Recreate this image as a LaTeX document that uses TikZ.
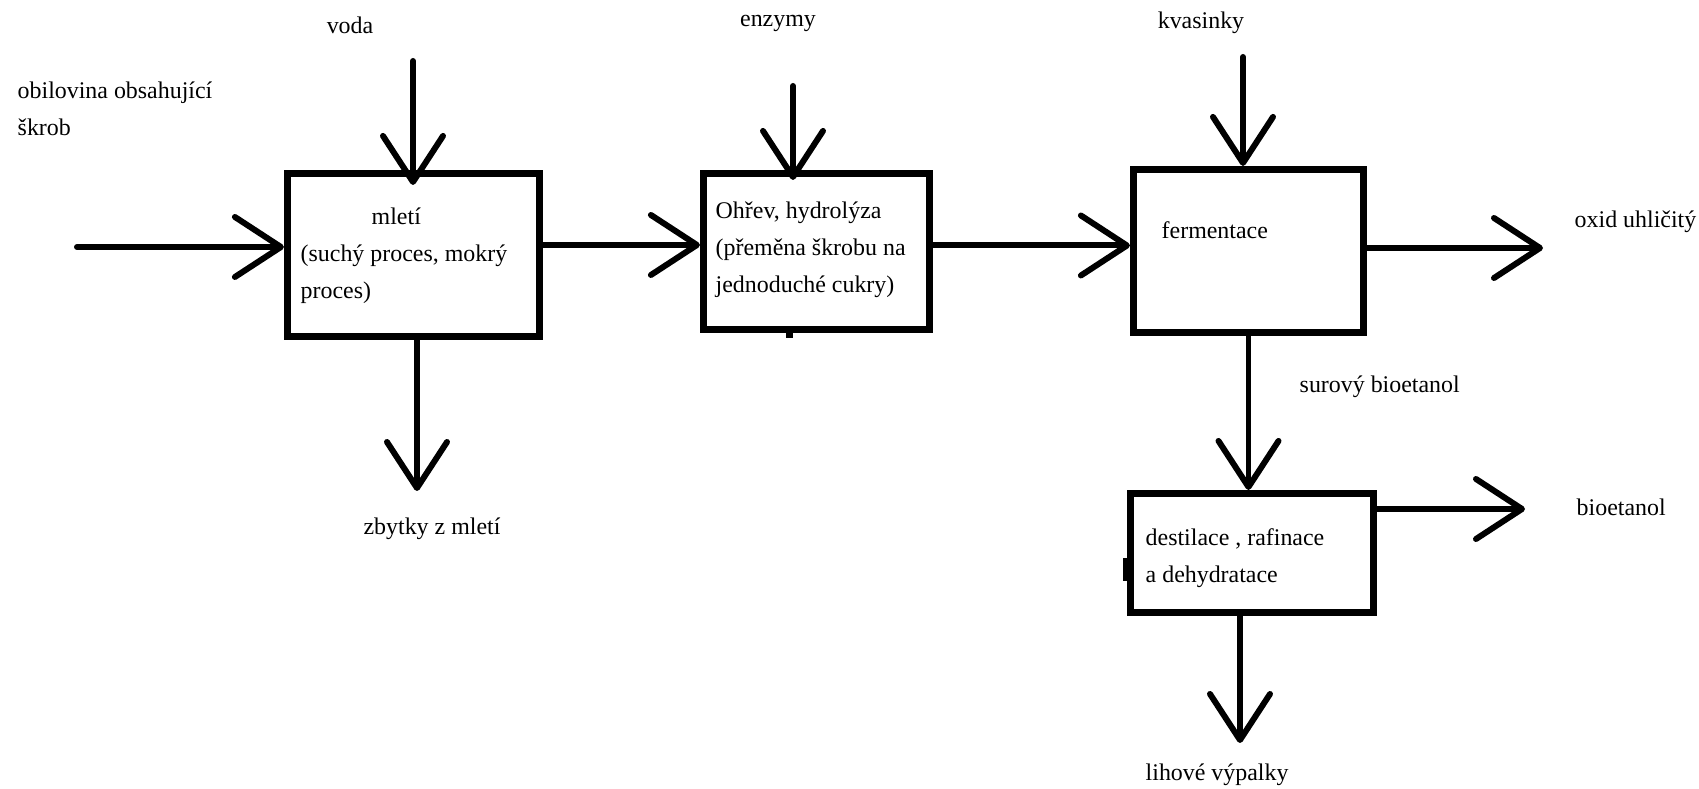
\documentclass[tikz,border=0pt]{standalone}
\usepackage{fontspec}
\setmainfont{Liberation Serif}
\usepackage{tikz}
\usetikzlibrary{
  arrows.meta,
  positioning
}

\begin{document}
\begin{tikzpicture}[
    x=0.01cm, y=-0.01cm,
    >={Straight Barb[round,length=4.6mm,width=6mm]},
    font=\fontsize{6.8}{10.5}\selectfont,
    blok/.style={draw, line width=2pt, inner sep=0pt},
    tok/.style={->, line width=1.7pt, line cap=round},
    popis/.style={inner sep=0pt, align=left}
    ]

    \fill[white] (0,0) rectangle (1699,789);

    % bloky
    \node[blok, minimum width=2.52cm, minimum height=1.63cm]
    (mleti) at (413.5,255) {};
    \node[blok, minimum width=2.26cm, minimum height=1.56cm]
    (hydrolyza) at (816.5,251.5) {};
    \node[blok, minimum width=2.30cm, minimum height=1.63cm]
    (fermentace) at (1248.5,251) {};
    \node[blok, minimum width=2.43cm, minimum height=1.19cm]
    (destilace) at (1252,553) {};

    % drobné zbytky čar
    \fill (786,333) rectangle (793,338);
    \fill (1123,558) rectangle (1128,581);

    % texty v blocích
    \node[popis, anchor=west] (t1) at (300,256)
    {\hspace*{0.71cm}mletí\\(suchý proces, mokrý\\proces)};
    \node[popis, anchor=west] (t2) at (715,250)
    {Ohřev, hydrolýza\\(přeměna škrobu na\\jednoduché cukry)};
    \node[popis, anchor=west] (t3) at (1161,230) {fermentace};
    \node[popis, anchor=west] (t4) at (1145,558)
    {destilace , rafinace\\a dehydratace};

    % popisky
    \node[popis, anchor=west] (obilovina) at (17,109)
    {obilovina obsahující\\škrob};
    \node[popis] (voda) at (350,25) {voda};
    \node[popis] (enzymy) at (778,23) {enzymy};
    \node[popis] (kvasinky) at (1201,23) {kvasinky};
    \node[popis, anchor=west] (co2) at (1574,222) {oxid uhličitý};
    \node[popis, anchor=west] (surovy) at (1299,387) {surový bioetanol};
    \node[popis, anchor=west] (bioetanol) at (1576,507) {bioetanol};
    \node[popis] (zbytky) at (432,529) {zbytky z mletí};
    \node[popis, anchor=west] (vypalky) at (1145,775) {lihové výpalky};

    % volné konce šipek
    \coordinate (vstup) at (77,247);
    \coordinate (v1) at (413,61);
    \coordinate (v2) at (793,86);
    \coordinate (v3) at (1243,57);
    \coordinate (z1) at (417,491);
    \coordinate (c1) at (1543,248);
    \coordinate (b1) at (1525,509);
    \coordinate (l1) at (1240,743);
    \coordinate (m1) at ([yshift=1mm]mleti.east);
    \coordinate (m2) at ([yshift=0.6mm]hydrolyza.east);

    % šipky
    \draw[tok] (vstup) -- (vstup -| mleti.west);
    \draw[tok, shorten >=-1.5mm] (v1) -- (v1 |- mleti.north);
    \draw[tok, shorten >=-1mm] (v2) -- (v2 |- hydrolyza.north);
    \draw[tok] (v3) -- (v3 |- fermentace.north);
    \draw[tok] (m1) -- (m1 -| hydrolyza.west);
    \draw[tok] (m2) -- (m2 -| fermentace.west);
    \draw[tok] (fermentace.east |- c1) -- (c1);
    \draw[tok] (z1 |- mleti.south) -- (z1);
    \draw[tok] (fermentace.south) -- (fermentace.south |- destilace.north);
    \draw[tok] (destilace.east |- b1) -- (b1);
    \draw[tok] (l1 |- destilace.south) -- (l1);

\end{tikzpicture}
\end{document}
